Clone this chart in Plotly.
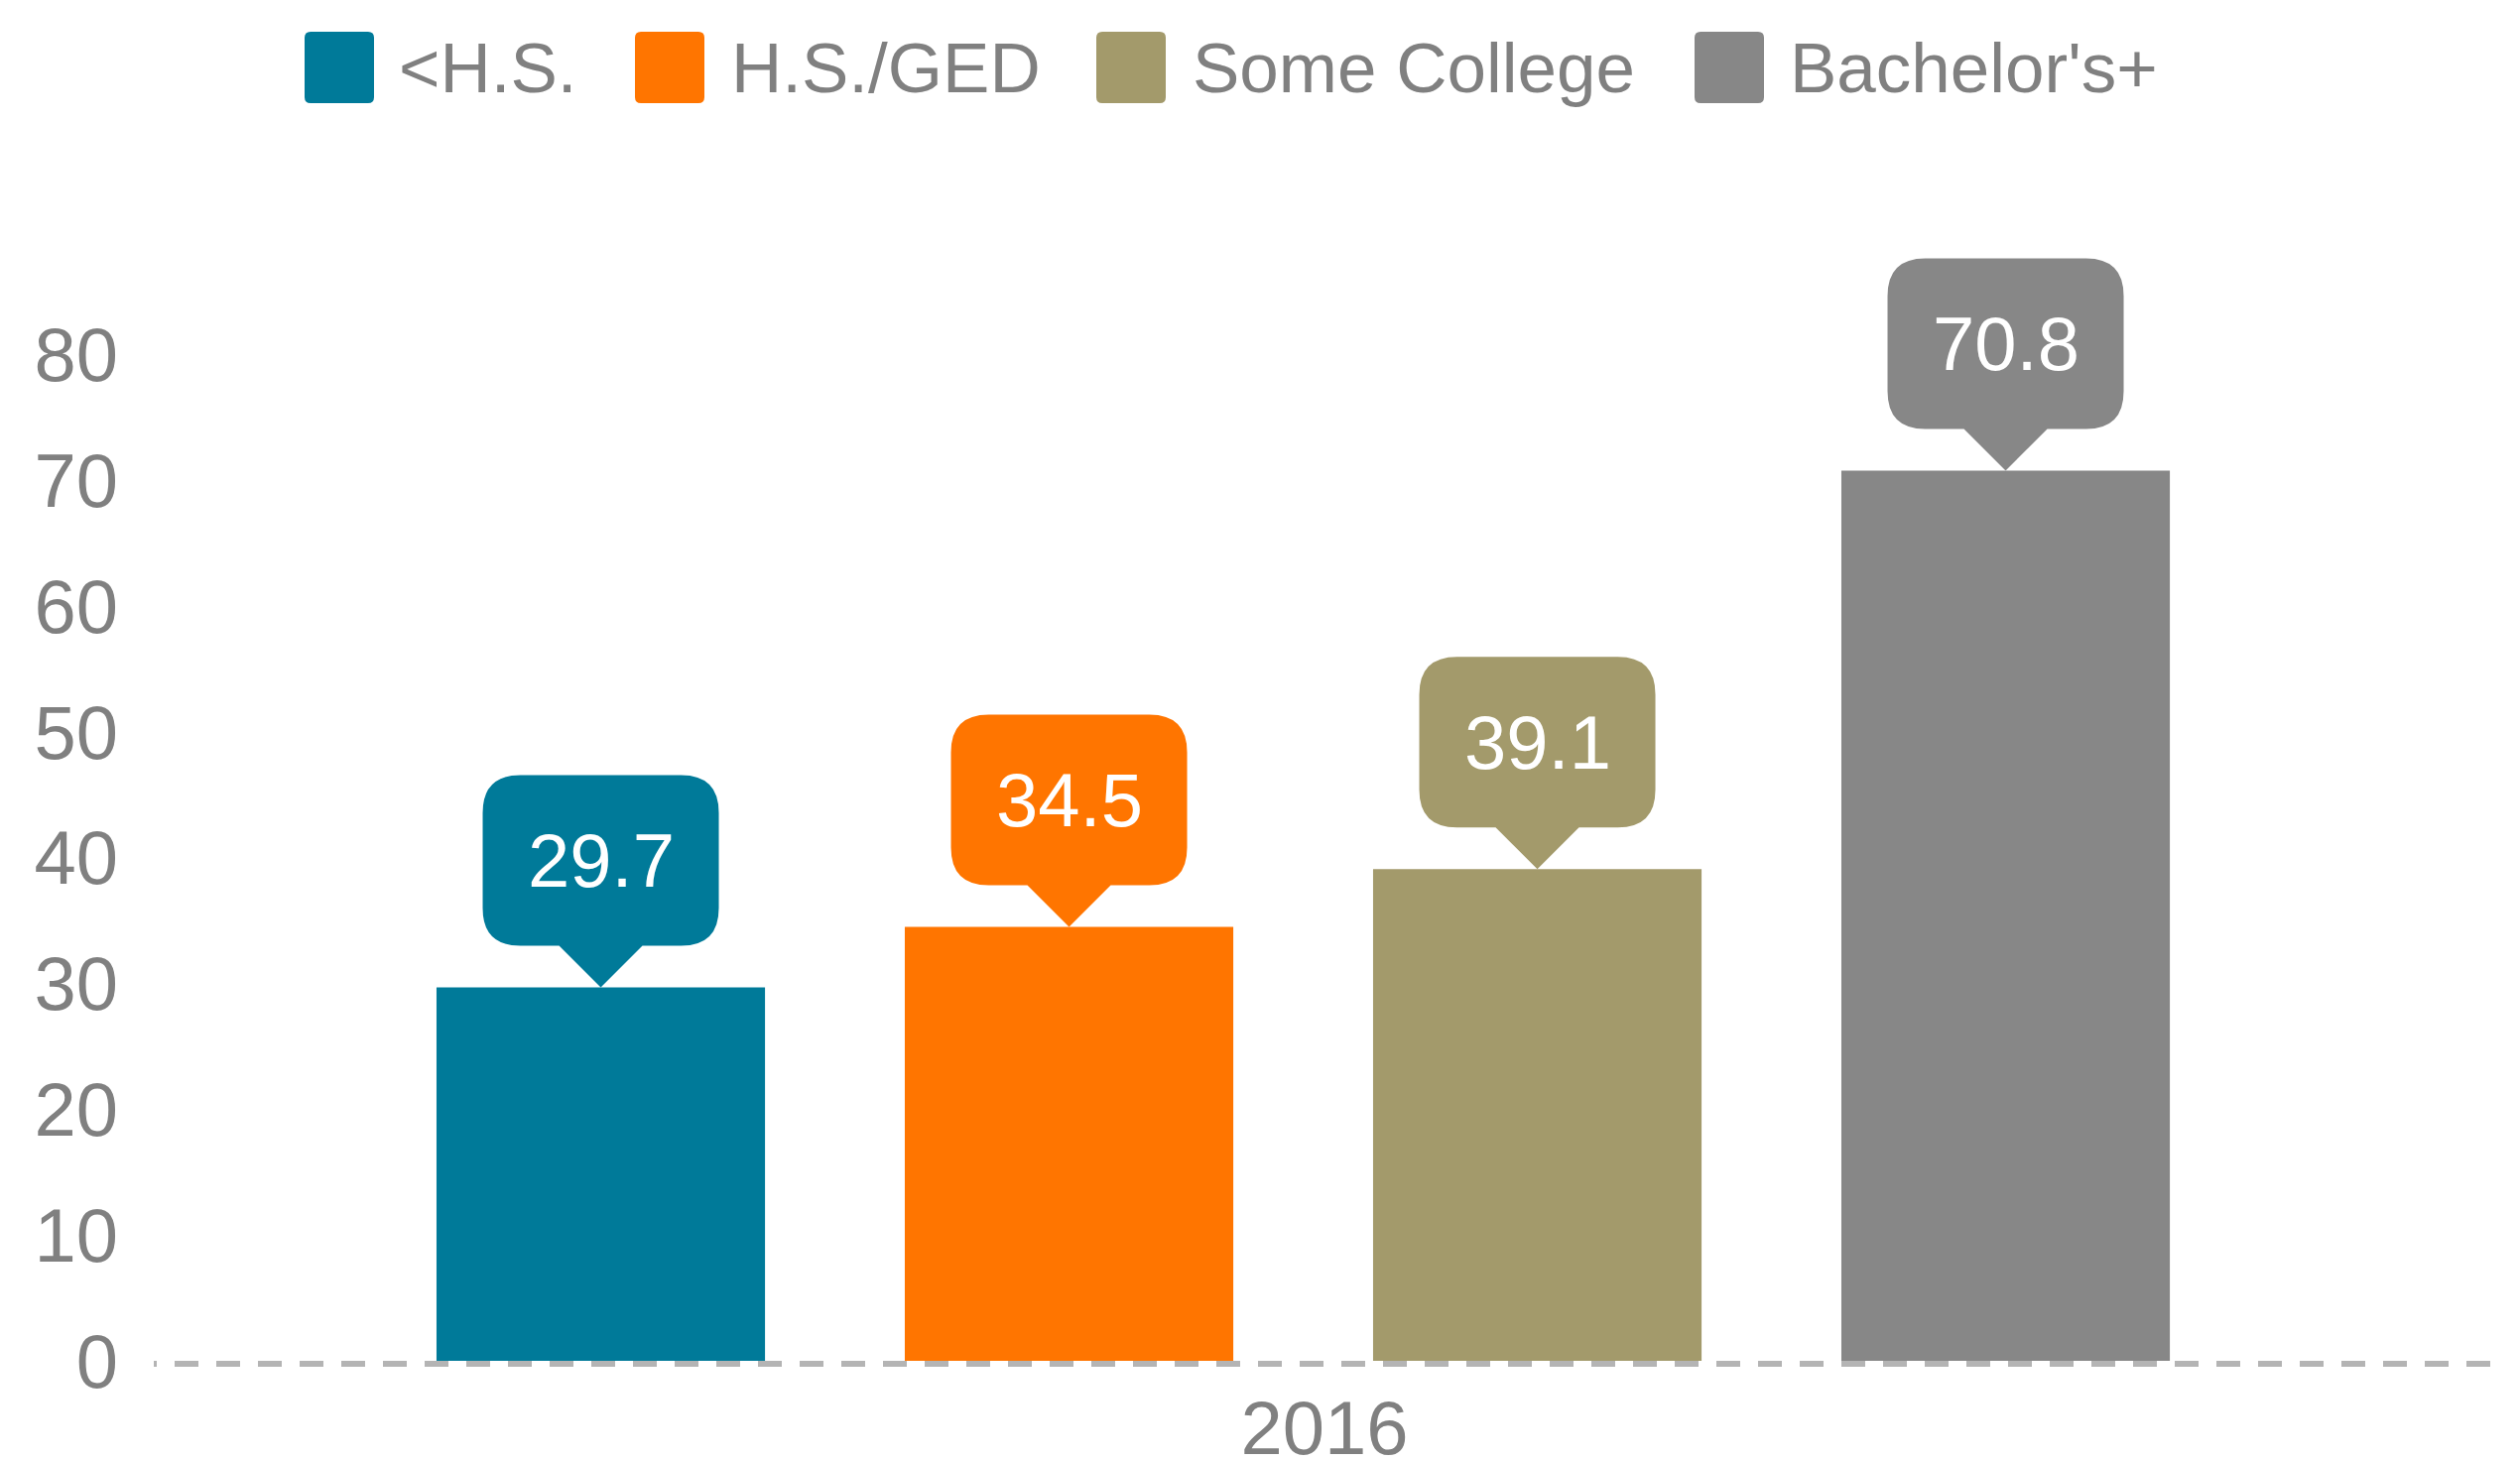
import plotly.graph_objects as go

# ---------------- data ----------------
categories = ["2016"]
series_names = ["<H.S.", "H.S./GED", "Some College", "Bachelor's+"]
values = [29.7, 34.5, 39.1, 70.8]
value_labels = ["29.7", "34.5", "39.1", "70.8"]
y_tick_values = [0, 10, 20, 30, 40, 50, 60, 70, 80]
y_tick_labels = ["0", "10", "20", "30", "40", "50", "60", "70", "80"]
colors = ["#007a99", "#ff7500", "#a39a6b", "#878787"]

# ---------------- layout constants ----------------
W, H = 2540, 1473
ML, MR, MT, MB = 155, 25, 231, 101
PW = W - ML - MR
PH = H - MT - MB
FONT = "Liberation Sans, Arial, Helvetica, sans-serif"
TEXT_GRAY = "#808080"

bar_width = 0.1403
slot = 0.2
first_center = -0.3091


def px_to_paper_x(px):
    return (px - ML) / PW


def px_to_paper_y(py):
    return (H - MB - py) / PH


def callout_path(hw=119, bh=172, ph=42, pw=42, r=38):
    y0 = ph
    y1 = ph + bh
    return (
        f"M0,0 L{pw},{y0} L{hw - r},{y0} Q{hw},{y0} {hw},{y0 + r} "
        f"L{hw},{y1 - r} Q{hw},{y1} {hw - r},{y1} "
        f"L{-hw + r},{y1} Q{-hw},{y1} {-hw},{y1 - r} "
        f"L{-hw},{y0 + r} Q{-hw},{y0} {-hw + r},{y0} L{-pw},{y0} Z"
    )


def rounded_rect(hw, hh, r):
    return (
        f"M{-hw + r},{-hh} L{hw - r},{-hh} Q{hw},{-hh} {hw},{-hh + r} "
        f"L{hw},{hh - r} Q{hw},{hh} {hw - r},{hh} L{-hw + r},{hh} "
        f"Q{-hw},{hh} {-hw},{hh - r} L{-hw},{-hh + r} Q{-hw},{-hh} {-hw + r},{-hh} Z"
    )


fig = go.Figure()

shapes = []
annotations = []

for i, (name, val, lab, col) in enumerate(zip(series_names, values, value_labels, colors)):
    center = first_center + slot * i
    fig.add_trace(
        go.Bar(
            x=categories,
            y=[val],
            name=name,
            marker=dict(color=col, line=dict(width=0)),
            width=bar_width,
            offset=center - bar_width / 2,
            showlegend=False,
            hoverinfo="skip",
        )
    )
    # callout bubble
    shapes.append(
        dict(
            type="path",
            xref="x",
            yref="y",
            xsizemode="pixel",
            ysizemode="pixel",
            xanchor=center,
            yanchor=val,
            path=callout_path(),
            fillcolor=col,
            line=dict(width=0),
            layer="above",
        )
    )
    annotations.append(
        dict(
            x=center,
            y=val,
            xref="x",
            yref="y",
            yshift=42 + 86,
            text=lab,
            showarrow=False,
            xanchor="center",
            yanchor="middle",
            font=dict(family=FONT, size=76, color="white"),
        )
    )

# dashed baseline (paper-referenced so it is not clipped by the plot area)
dash = "3px,18px," + ",".join(["24px", "18px"] * 58)
base_y = -3.0 / PH
shapes.append(
    dict(
        type="line",
        xref="paper",
        x0=0,
        x1=1,
        yref="paper",
        y0=base_y,
        y1=base_y,
        line=dict(color="#b4b4b4", width=6, dash=dash),
        layer="above",
    )
)

# custom legend
legend_swatch_x = [342, 675, 1140, 1743]
legend_text_x = [400, 735, 1200, 1802]
legend_y = 68
for name, col, sx, tx in zip(series_names, colors, legend_swatch_x, legend_text_x):
    shapes.append(
        dict(
            type="path",
            xref="paper",
            yref="paper",
            xsizemode="pixel",
            ysizemode="pixel",
            xanchor=px_to_paper_x(sx),
            yanchor=px_to_paper_y(legend_y),
            path=rounded_rect(35, 36, 6),
            fillcolor=col,
            line=dict(width=0),
        )
    )
    annotations.append(
        dict(
            x=px_to_paper_x(tx),
            y=px_to_paper_y(legend_y),
            xref="paper",
            yref="paper",
            text=name,
            showarrow=False,
            xanchor="left",
            yanchor="middle",
            font=dict(family=FONT, size=71, color=TEXT_GRAY),
        )
    )

fig.update_layout(
    width=W,
    height=H,
    margin=dict(l=ML, r=MR, t=MT, b=MB, pad=0),
    paper_bgcolor="white",
    plot_bgcolor="white",
    barmode="overlay",
    showlegend=False,
    shapes=shapes,
    annotations=annotations,
    font=dict(family=FONT, color=TEXT_GRAY),
    xaxis=dict(
        type="category",
        range=[-0.5, 0.5],
        showgrid=False,
        showline=False,
        zeroline=False,
        ticks="",
        tickfont=dict(family=FONT, size=76, color=TEXT_GRAY),
        ticklabelstandoff=17,
        automargin=False,
        fixedrange=True,
    ),
    yaxis=dict(
        range=[0, 90],
        tickmode="array",
        tickvals=y_tick_values,
        ticktext=y_tick_labels,
        showgrid=False,
        showline=False,
        zeroline=False,
        ticks="",
        tickfont=dict(family=FONT, size=76, color=TEXT_GRAY),
        ticklabelstandoff=35,
        automargin=False,
        fixedrange=True,
    ),
)

fig.write_html("out.html", config={"displayModeBar": False})
